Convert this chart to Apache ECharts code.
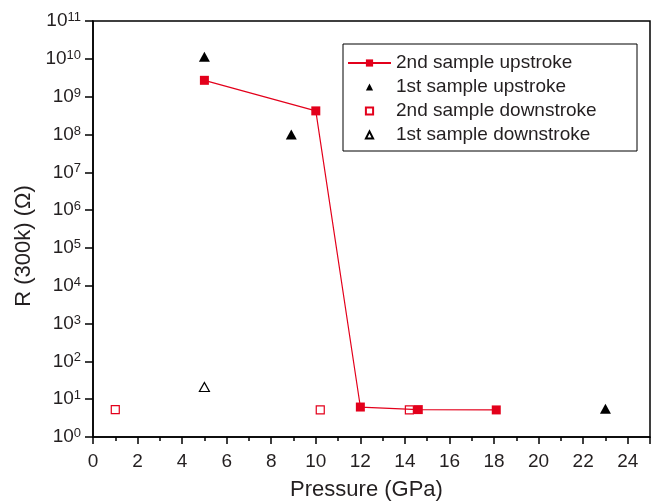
<!DOCTYPE html>
<html>
<head>
<meta charset="utf-8">
<script src="https://cdn.jsdelivr.net/npm/echarts@6/dist/echarts.min.js"></script>
<style>
  html, body { margin: 0; padding: 0; background: #fff; }
  #chart { width: 652px; height: 504px; }
</style>
</head>
<body>
<div id="chart"></div>
<script>
// ---- data ----
const seriesNames = ['2nd sample upstroke', '1st sample upstroke', '2nd sample downstroke', '1st sample downstroke'];
const up2X = [5, 10, 12, 14.6, 18.1];
const up2Y = [2.7e9, 4.2e8, 6.2, 5.3, 5.2];
const up1X = [5, 8.9, 23];
const up1Y = [1.13e10, 1.0e8, 5.6];
const down2X = [1, 10.2, 14.2];
const down2Y = [5.3, 5.2, 5.2];
const down1X = [5];
const down1Y = [21];
const xTickLabels = [0, 2, 4, 6, 8, 10, 12, 14, 16, 18, 20, 22, 24];

const pairs = (xs, ys) => xs.map((x, i) => [x, ys[i]]);

const RED = '#e3001b';
const TXT = '#231f20';
const FONT = 'Liberation Sans, Arial, Helvetica, sans-serif';

const chart = echarts.init(document.getElementById('chart'), null, { renderer: 'canvas' });

const option = {
  animation: false,
  backgroundColor: '#fff',
  textStyle: { fontFamily: FONT },
  grid: {
    left: 93, right: 2, top: 21, bottom: 67,
    containLabel: false, outerBoundsMode: 'none',
    show: true, borderColor: '#000', borderWidth: 1.5, backgroundColor: 'transparent'
  },
  legend: {
    orient: 'vertical',
    left: 347, top: 53,
    padding: 0,
    itemWidth: 43, itemHeight: 9, itemGap: 4,
    selectedMode: false,
    align: 'left',
    textStyle: { fontSize: 19, color: TXT, fontFamily: FONT, lineHeight: 20 },
    data: seriesNames
  },
  graphic: [{
    type: 'rect',
    shape: { x: 343, y: 44, width: 294, height: 107 },
    style: { fill: 'none', stroke: '#000', lineWidth: 1 },
    z: 100, silent: true
  }],
  xAxis: [{
    type: 'value', min: 0, max: 25, interval: 1,
    position: 'bottom',
    axisLine: { show: true, onZero: false, lineStyle: { color: '#000', width: 1.5 } },
    axisTick: { show: true, inside: false, length: 4, lineStyle: { color: '#000', width: 1.5 } },
    axisLabel: {
      margin: 15, fontSize: 19, color: TXT, fontFamily: FONT, hideOverlap: false,
      formatter: v => (xTickLabels.indexOf(v) >= 0 ? String(v) : '')
    },
    splitLine: { show: false },
    name: 'Pressure (GPa)', nameLocation: 'middle', nameGap: 42,
    nameTextStyle: { fontSize: 22, color: TXT, fontFamily: FONT, padding: [0, 10, 0, 0] }
  }, {
    type: 'value', min: 0, max: 25, interval: 2,
    position: 'bottom',
    axisLine: { show: false, onZero: false },
    axisTick: { show: true, inside: false, length: 7, lineStyle: { color: '#000', width: 1.5 } },
    axisLabel: { show: false },
    splitLine: { show: false }
  }],
  yAxis: {
    type: 'log', logBase: 10, min: 1, max: 1e11, interval: 1, splitNumber: 11,
    axisLine: { show: true, onZero: false, lineStyle: { color: '#000', width: 1.5 } },
    axisTick: { show: true, inside: false, length: 8, interval: 0, lineStyle: { color: '#000', width: 1.5 } },
    minorTick: { show: false },
    splitLine: { show: false },
    axisLabel: {
      margin: 12, color: TXT, fontFamily: FONT, interval: 0, hideOverlap: false,
      showMinLabel: true, showMaxLabel: true,
      formatter: v => '{b|10}{s|' + Math.round(Math.log10(v)) + '}',
      rich: {
        b: { fontSize: 19, color: TXT, fontFamily: FONT, lineHeight: 20 },
        s: { fontSize: 13, color: TXT, fontFamily: FONT, verticalAlign: 'top', lineHeight: 13 }
      }
    },
    name: 'R (300k) (\u03a9)', nameLocation: 'middle', nameGap: 58,
    nameTextStyle: { fontSize: 22, color: TXT, fontFamily: FONT, padding: [0, 34, 0, 0] }
  },
  series: [{
    name: seriesNames[0], type: 'line', xAxisIndex: 0,
    data: pairs(up2X, up2Y),
    symbol: 'rect', symbolSize: 9,
    itemStyle: { color: RED },
    lineStyle: { color: RED, width: 1.2 },
    z: 5
  }, {
    name: seriesNames[1], type: 'line', xAxisIndex: 0,
    data: pairs(up1X, up1Y),
    symbol: 'triangle', symbolSize: [11, 10],
    itemStyle: { color: '#000' },
    lineStyle: { opacity: 0 },
    z: 4
  }, {
    name: seriesNames[2], type: 'line', xAxisIndex: 0,
    data: pairs(down2X, down2Y),
    symbol: 'rect', symbolSize: 8,
    itemStyle: { color: '#fff', borderColor: RED, borderWidth: 1.2 },
    lineStyle: { opacity: 0 },
    z: 3
  }, {
    name: seriesNames[3], type: 'line', xAxisIndex: 0,
    data: pairs(down1X, down1Y),
    symbol: 'triangle', symbolSize: [10, 9],
    itemStyle: { color: '#fff', borderColor: '#000', borderWidth: 1.2 },
    lineStyle: { opacity: 0 },
    z: 3
  }]
};
chart.setOption(option);
</script>
</body>
</html>
